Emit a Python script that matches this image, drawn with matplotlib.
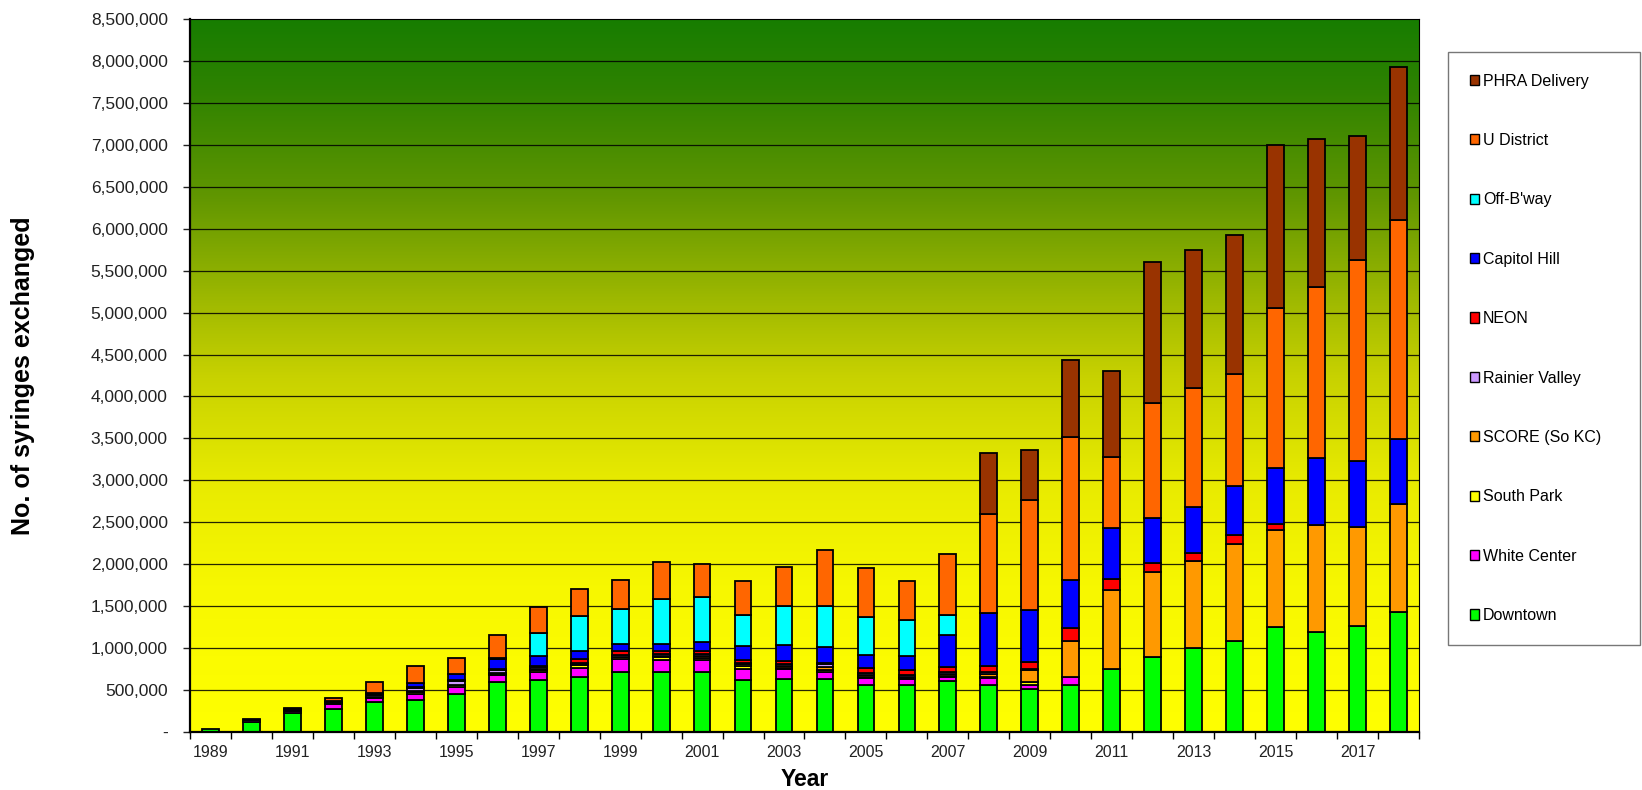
import numpy as np
import matplotlib
matplotlib.use('Agg')
import matplotlib.pyplot as plt
from matplotlib.colors import LinearSegmentedColormap
from matplotlib.patches import Patch
from matplotlib.ticker import FuncFormatter, MultipleLocator

plt.rcParams['font.family'] = ['Liberation Sans', 'DejaVu Sans']

years = list(range(1989, 2019))

# syringes exchanged per site, thousands
downtown = [38, 125, 226, 278, 357, 377, 453, 595, 619, 650, 720, 720, 712, 625, 637,
            637, 557, 557, 609, 565, 510, 565, 756, 890, 997, 1087, 1250, 1194, 1267, 1436]
white_center = [0, 15, 25, 52, 50, 80, 82, 80, 92, 110, 145, 137, 144, 131, 111,
                75, 88, 76, 52, 80, 47, 92, 0, 0, 0, 0, 0, 0, 0, 0]
south_park = [0, 5, 8, 10, 15, 20, 20, 20, 25, 35, 25, 32, 30, 36, 20,
              32, 15, 12, 12, 12, 40, 0, 0, 0, 0, 0, 0, 0, 0, 0]
score = [0, 0, 0, 0, 0, 15, 10, 10, 10, 12, 10, 16, 15, 15, 20,
         30, 20, 15, 20, 30, 147, 426, 936, 1013, 1043, 1154, 1160, 1272, 1182, 1284]
rainier = [0, 10, 12, 15, 25, 30, 40, 30, 30, 18, 15, 20, 25, 20, 20,
           34, 20, 21, 19, 26, 10, 0, 0, 0, 0, 0, 0, 0, 0, 0]
neon = [0, 0, 0, 5, 5, 10, 10, 12, 15, 45, 45, 39, 35, 37, 40,
        10, 64, 59, 68, 71, 86, 151, 131, 113, 88, 107, 67, 0, 0, 0]
capitol_hill = [0, 0, 0, 10, 10, 55, 82, 125, 118, 97, 85, 80, 114, 159, 195,
                193, 159, 163, 382, 637, 617, 577, 613, 534, 558, 580, 665, 800, 777, 770]
off_bway = [0, 0, 0, 0, 0, 0, 0, 15, 270, 413, 420, 536, 537, 366, 457,
            489, 446, 438, 227, 0, 0, 0, 0, 0, 0, 0, 0, 0, 0, 0]
u_district = [0, 0, 10, 40, 140, 195, 188, 268, 310, 330, 345, 450, 390, 410, 470,
              669, 589, 462, 732, 1175, 1314, 1704, 848, 1375, 1414, 1340, 1908, 2038, 2404, 2619]
phra = [0, 0, 0, 0, 0, 0, 0, 0, 0, 0, 0, 0, 0, 0, 0,
        0, 0, 0, 0, 728, 589, 924, 1023, 1675, 1643, 1661, 1943, 1762, 1480, 1813]

series = [('Downtown', downtown, '#00FF00'),
          ('White Center', white_center, '#FF00FF'),
          ('South Park', south_park, '#FFFF00'),
          ('SCORE (So KC)', score, '#FF9900'),
          ('Rainier Valley', rainier, '#CC99FF'),
          ('NEON', neon, '#FF0000'),
          ('Capitol Hill', capitol_hill, '#0000FF'),
          ("Off-B'way", off_bway, '#00FFFF'),
          ('U District', u_district, '#FF6600'),
          ('PHRA Delivery', phra, '#993300')]

fig = plt.figure(figsize=(16.42, 7.90), dpi=100)
ax = fig.add_axes([0.1157, 0.0734, 0.7485, 0.9026])

ymax = 8500000
# green -> yellow background
cmap = LinearSegmentedColormap.from_list('bg', [
    (0.0, (1.0, 1.0, 0.0)),
    (0.2, (0.97, 0.97, 0.0)),
    (0.35, (0.91, 0.92, 0.0)),
    (0.5, (0.78, 0.82, 0.0)),
    (0.6, (0.63, 0.73, 0.0)),
    (0.75, (0.38, 0.59, 0.0)),
    (0.9, (0.18, 0.51, 0.0)),
    (1.0, (0.09, 0.49, 0.0))])
grad = np.linspace(1, 0, 256).reshape(-1, 1)
ax.imshow(grad, cmap=cmap, aspect='auto', extent=[-0.5, len(years) - 0.5, 0, ymax], zorder=0)

for yv in range(500000, ymax, 500000):
    ax.axhline(yv, color='black', lw=0.9, alpha=0.85, zorder=1)

x = np.arange(len(years))
bottom = np.zeros(len(years))
handles = []
for name, vals, col in series:
    v = np.array(vals) * 1000.0
    m = v > 0
    ax.bar(x[m], v[m], bottom=bottom[m], width=0.41, color=col,
           edgecolor='black', linewidth=1.3, zorder=2)
    bottom += v
    handles.append(Patch(facecolor=col, edgecolor='black', linewidth=1.0, label=name))

ax.set_xlim(-0.5, len(years) - 0.5)
ax.set_ylim(0, ymax)

ax.yaxis.set_major_locator(MultipleLocator(500000))
ax.yaxis.set_major_formatter(FuncFormatter(lambda v, p: '-' if v == 0 else f'{v:,.0f}'))
ax.tick_params(axis='y', labelsize=12.5, length=5, width=1, pad=11, colors='#222222')

ax.set_xticks(x[::2])
ax.set_xticklabels([str(y) for y in years[::2]])
ax.set_xticks(np.arange(-0.5, len(years)), minor=True)
ax.tick_params(axis='x', which='major', length=0, labelsize=11.5, pad=9, colors='#222222')
ax.tick_params(axis='x', which='minor', length=5, width=1)

for s in ['left', 'bottom']:
    ax.spines[s].set_linewidth(1.6)
for s in ['top', 'right']:
    ax.spines[s].set_linewidth(0.8)

ax.set_ylabel('No. of syringes exchanged', fontsize=18, fontweight='bold')
ax.yaxis.set_label_coords(-0.126, 0.5)
ax.set_xlabel('Year', fontsize=16.5, fontweight='bold')
ax.xaxis.set_label_coords(0.5, -0.05)

leg = fig.legend(handles=handles[::-1], loc='upper left',
                 bbox_to_anchor=(1448 / 1642, 1 - 52 / 790, 192 / 1642, 0.0),
                 mode='expand', fontsize=11.5, frameon=True, fancybox=False,
                 edgecolor='#555555', borderpad=1.35, labelspacing=2.78,
                 handlelength=0.6, handleheight=0.6, handletextpad=0.25,
                 borderaxespad=0)
leg.get_frame().set_linewidth(1.0)

fig.savefig('out.png', dpi=100)
